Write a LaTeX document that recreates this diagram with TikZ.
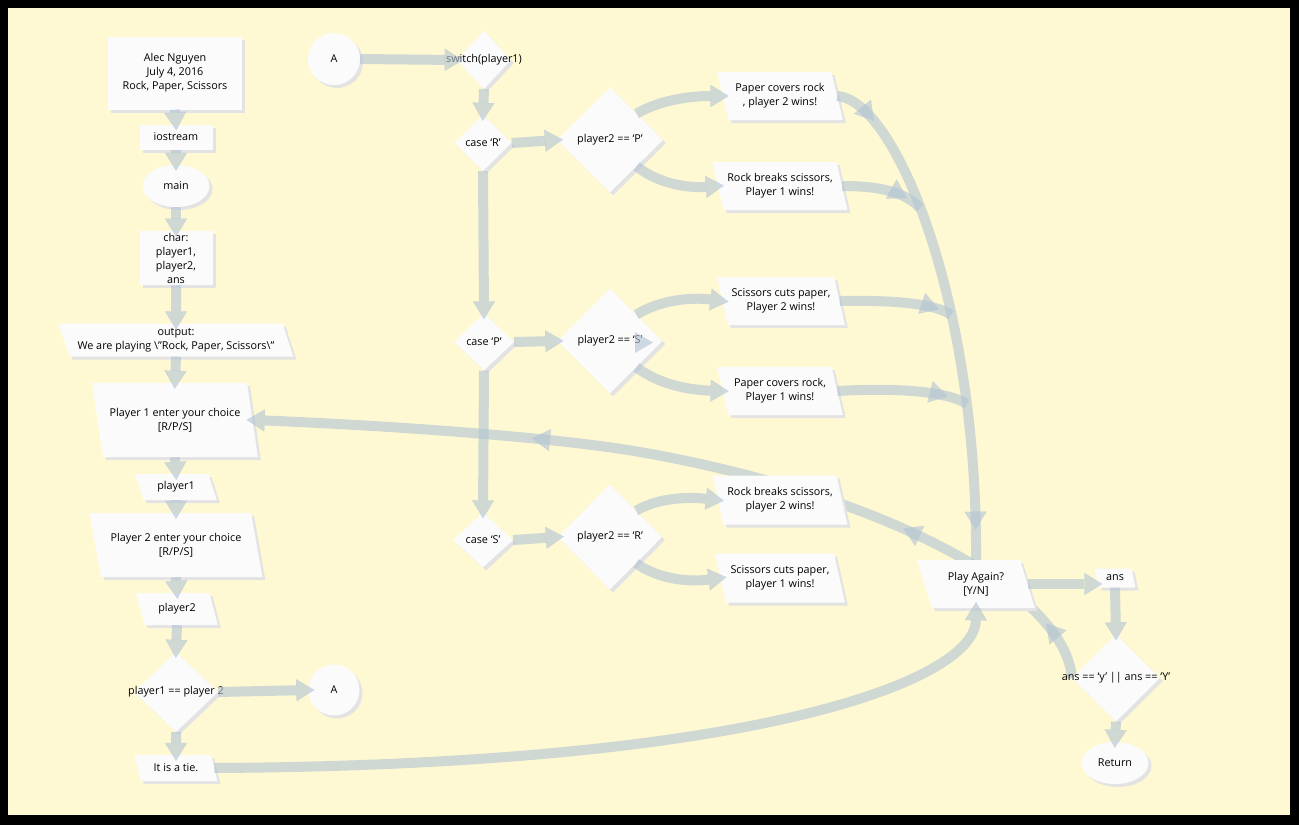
\documentclass[tikz,border=0pt]{standalone}
\usepackage{fontspec}
\setmainfont{Open Sans}
\usepackage{tikz}
\usetikzlibrary{arrows.meta,shapes.geometric,shadows,backgrounds,decorations.markings,calc}

\definecolor{paper}{HTML}{FFF9D3}
\definecolor{boxfill}{HTML}{FBFBFB}
\definecolor{boxshade}{HTML}{E3E3E3}
\definecolor{flowc}{HTML}{B2C4D4}

\begin{document}
\begin{tikzpicture}[
  x=1pt, y=-1pt,
  >={Triangle[length=18pt,width=22pt,line width=0.1pt]},
  base/.style={fill=boxfill, inner sep=2pt, align=center,
    font=\fontsize{10.8}{14}\selectfont,
    general shadow={fill=boxshade, shadow xshift=3pt, shadow yshift=-3pt}},
  proc/.style={base, rectangle},
  term/.style={base, ellipse},
  conn/.style={base, circle},
  io/.style={base, trapezium, trapezium left angle=110, trapezium right angle=70,
    trapezium stretches=true},
  dec/.style={base, diamond, inner sep=0pt},
  line/.style={line width=10pt, draw=flowc, opacity=0.62},
  flow/.style={line, ->, shorten >=-6pt},
  midarr/.style={postaction={decorate, decoration={markings,
    mark=at position #1 with {\arrow{>}}}}},
  tipfill/.style={fill=flowc, opacity=0.62},
]
\useasboundingbox (0,0) rectangle (1299,825);
\begin{scope}[on background layer]
  \fill[black] (0,0) rectangle (1299,825);
  \fill[paper] (8,8) rectangle (1290,815);
\end{scope}

% --- Left column: setup and input ---
\node[proc, minimum width=134pt, minimum height=73pt] (hdr) at (175,73)
  {Alec Nguyen\\July 4, 2016\\Rock, Paper, Scissors};
\node[proc, minimum width=73pt, minimum height=25pt] (iost) at (176,137) {iostream};
\node[term, minimum width=67pt, minimum height=42pt] (mainf) at (176,186) {main};
\node[proc, minimum width=73pt, minimum height=53pt] (vars) at (176,258)
  {char:\\player1,\\player2,\\ans};
\node[io, minimum width=235pt, minimum height=33pt] (outp) at (176,340)
  {output:\\We are playing \textbackslash"Rock, Paper, Scissors\textbackslash"};
\node[io, minimum width=166pt, minimum height=74pt] (p1in) at (175,420)
  {Player 1 enter your choice\\{[R/P/S]}};
\node[io, minimum width=82pt, minimum height=26pt] (p1var) at (176,487) {player1};
\node[io, minimum width=173pt, minimum height=64pt] (p2in) at (176,545)
  {Player 2 enter your choice\\{[R/P/S]}};
\node[io, minimum width=82pt, minimum height=32pt] (p2var) at (177,609) {player2};
\node[dec, minimum width=84pt, minimum height=80pt] (tiedec) at (176,692)
  {\makebox[0pt]{player1 == player 2}};
\node[conn, minimum size=51pt] (conA2) at (334,690) {A};
\node[io, minimum width=83pt, minimum height=26pt] (tie) at (176,768) {It is a tie.};

% --- Middle: switch on player1 ---
\node[conn, minimum size=52pt] (conA1) at (334,59) {A};
\node[dec, minimum width=54pt, minimum height=58pt] (sw) at (484,60)
  {\makebox[0pt]{switch(player1)}};
\node[dec, minimum width=57pt, minimum height=56pt] (caseR) at (483,143)
  {\makebox[0pt]{case ‘R’}};
\node[dec, minimum width=60pt, minimum height=57pt] (caseP) at (484,342)
  {\makebox[0pt]{case ‘P’}};
\node[dec, minimum width=60pt, minimum height=55pt] (caseS) at (483,540)
  {\makebox[0pt]{case ‘S’}};
\node[dec, minimum width=106pt, minimum height=105pt] (decP) at (610,140)
  {\makebox[0pt]{player2 == ‘P’}};
\node[dec, minimum width=105pt, minimum height=105pt] (decS) at (610,341)
  {\makebox[0pt]{player2 == ‘S’}};
\node[dec, minimum width=104pt, minimum height=105pt] (decR) at (610,537)
  {\makebox[0pt]{player2 == ‘R’}};

% --- Right: outcomes ---
\node[io, minimum width=126pt, minimum height=48pt] (winA) at (780,96)
  {Paper covers rock\\, player 2 wins!};
\node[io, minimum width=135pt, minimum height=48pt] (winB) at (780,186)
  {Rock breaks scissors,\\Player 1 wins!};
\node[io, minimum width=128pt, minimum height=48pt] (winC) at (781,301)
  {Scissors cuts paper,\\Player 2 wins!};
\node[io, minimum width=126pt, minimum height=48pt] (winD) at (780,391)
  {Paper covers rock,\\Player 1 wins!};
\node[io, minimum width=135pt, minimum height=49pt] (winE) at (780,500)
  {Rock breaks scissors,\\player 2 wins!};
\node[io, minimum width=130pt, minimum height=49pt] (winF) at (780,578)
  {Scissors cuts paper,\\player 1 wins!};

% --- Replay ---
\node[io, minimum width=118pt, minimum height=48pt] (again) at (976,584)
  {Play Again?\\{[Y/N]}};
\node[io, minimum width=41pt, minimum height=19pt, inner sep=0pt] (ansv) at (1115,578) {ans};
\node[dec, minimum width=88pt, minimum height=87pt] (ansdec) at (1116,678)
  {\makebox[0pt]{ans == ‘y’ || ans == ‘Y’}};
\node[term, minimum width=67pt, minimum height=42pt] (ret) at (1115,763) {Return};

% --- Left column flow ---
\draw[flow] (hdr.south) -- (iost.north);
\draw[flow] (iost.south) -- (mainf.north);
\draw[flow] (mainf.south) -- (vars.north);
\draw[flow] (vars.south) -- (outp.north);
\draw[flow] (outp.south) -- (p1in.north);
\draw[flow] (p1in.south) -- (p1var.north);
\draw[flow] (p1var.south) -- (p2in.north);
\draw[flow] (p2in.south) -- (p2var.north);
\draw[flow] (p2var.south) -- (tiedec.north);
\draw[flow] (tiedec.east) -- (conA2.west);
\draw[flow] (tiedec.south) -- (tie.north);
\draw[flow] (tie.east) .. controls (760,765) and (975,680) .. (again.south);

% --- Switch flow ---
\draw[flow] (conA1.east) -- (sw.west);
\draw[flow] (sw.south) -- (caseR.north);
\draw[flow] (caseR.south) -- (caseP.north);
\draw[flow] (caseP.south) -- (caseS.north);
\draw[flow] (caseR.east) -- (decP.west);
\draw[flow] (caseP.east) -- (decS.west);
\draw[flow] (caseS.east) -- (decR.west);
\fill[tipfill] (decS.center) ++(25,-9) -- ++(18,10.5) -- ++(-18,10.5) -- cycle;

% --- Outcomes ---
\draw[flow] (decP.north east) .. controls (660,100) and (690,96) .. (winA.west);
\draw[flow] (decP.south east) .. controls (660,185) and (690,188) .. (winB.west);
\draw[flow] (decS.north east) .. controls (660,300) and (690,297) .. (winC.west);
\draw[flow] (decS.south east) .. controls (660,385) and (690,390) .. (winD.west);
\draw[flow] (decR.north east) .. controls (660,497) and (690,497) .. (winE.west);
\draw[flow] (decR.south east) .. controls (660,580) and (690,582) .. (winF.west);

% --- Into Play Again ---
\coordinate (mB) at (920,208);
\coordinate (mC) at (951,315);
\coordinate (mD) at (967,404);
\draw[line, midarr=0.09, midarr=0.94] (winA.east) .. controls (895,100) and (978,300) .. (again.north);
\draw[line, midarr=0.8] (winB.east) .. controls (880,186) and (905,192) .. (mB);
\draw[line, midarr=0.88] (winC.east) .. controls (890,300) and (935,303) .. (mC);
\draw[line, midarr=0.84] (winD.east) .. controls (890,388) and (945,390) .. (mD);
\draw[flow] (again.east) -- (again.east -| ansv.west);
\draw[flow] (ansv.south) -- (ansdec.north);
\draw[flow] (ansdec.south) -- (ret.north);

% --- Loop back to player 1 ---
\coordinate (kL) at (640,452);
\begin{scope}[on background layer]
  \draw[line, midarr=0.12, midarr=0.46] (ansdec.west) .. controls (1066,593) and (886,495) .. (kL);
\end{scope}
\draw[flow, midarr=0.28] (kL) .. controls (560,438) and (400,426) .. (p1in.east);
\end{tikzpicture}
\end{document}
